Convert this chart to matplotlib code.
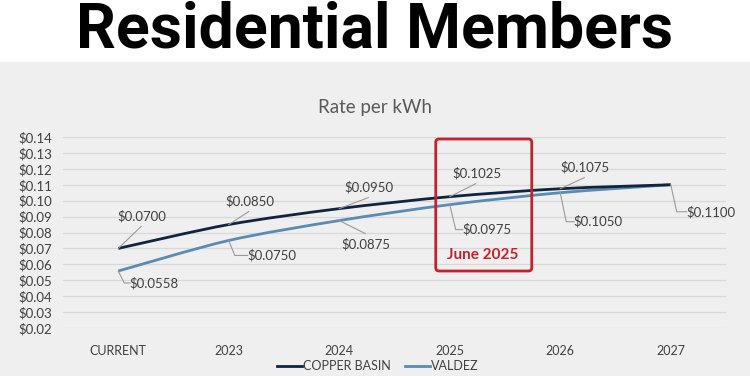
import matplotlib
matplotlib.use("Agg")
import matplotlib.pyplot as plt
from matplotlib.path import Path
from matplotlib.patches import PathPatch, FancyBboxPatch, Rectangle
import numpy as np

categories = ["CURRENT", "2023", "2024", "2025", "2026", "2027"]
copper_basin = [0.0700, 0.0850, 0.0950, 0.1025, 0.1075, 0.1100]
valdez = [0.0558, 0.0750, 0.0875, 0.0975, 0.1050, 0.1100]
copper_labels = ["$0.0700", "$0.0850", "$0.0950", "$0.1025", "$0.1075", None]
valdez_labels = ["$0.0558", "$0.0750", "$0.0875", "$0.0975", "$0.1050", "$0.1100"]
yticks = [0.02, 0.03, 0.04, 0.05, 0.06, 0.07, 0.08, 0.09, 0.10, 0.11, 0.12, 0.13, 0.14]

CB_COLOR = "#10243f"
VA_COLOR = "#5a8bb5"
TXT = "#404040"
LEAD = "#9a9a9a"

W, H = 750, 376
fig = plt.figure(figsize=(7.5, 3.76), dpi=100)
fig.patch.set_facecolor("white")

# gray panel
fig.add_artist(Rectangle((0, 0), 1, 1 - 62 / H, transform=fig.transFigure,
                         facecolor="#efefef", edgecolor="none", zorder=0))

fig.text(0.5, 1 - 31 / H, "Residential Members", ha="center", va="center",
         fontsize=45, fontweight="bold", family="Roboto", color="black")

ax = fig.add_axes([63 / W, 1 - 328 / H, (726 - 63) / W, (328 - 137) / H])
ax.set_facecolor("none")
ax.set_xlim(-0.5, len(categories) - 0.5)
ax.set_ylim(0.02, 0.14)
for s in ax.spines.values():
    s.set_visible(False)
ax.set_yticks(yticks)
ax.set_yticklabels([f"${v:.2f}" for v in yticks], family="Lato", fontsize=9.5, color=TXT)
ax.set_xticks(range(len(categories)))
ax.set_xticklabels(categories, family="Lato", fontsize=9, color=TXT)
ax.tick_params(length=0, pad=8)
ax.tick_params(axis="x", pad=12)
ax.grid(axis="y", color="#d8d8d8", lw=0.9)
ax.set_axisbelow(True)

fig.text(0.5, 1 - 108 / H, "Rate per kWh", ha="center", va="center",
         fontsize=13.5, family="Lato", color="#595959")


def smooth_path(xs, ys):
    xs = np.asarray(xs, float)
    ys = np.asarray(ys, float)
    n = len(xs)
    verts = [(xs[0], ys[0])]
    codes = [Path.MOVETO]
    for i in range(n - 1):
        p0 = (xs[max(i - 1, 0)], ys[max(i - 1, 0)])
        p1 = (xs[i], ys[i])
        p2 = (xs[i + 1], ys[i + 1])
        p3 = (xs[min(i + 2, n - 1)], ys[min(i + 2, n - 1)])
        t = 1 / 7
        c1 = (p1[0] + (p2[0] - p0[0]) * t, p1[1] + (p2[1] - p0[1]) * t)
        c2 = (p2[0] - (p3[0] - p1[0]) * t, p2[1] - (p3[1] - p1[1]) * t)
        verts += [c1, c2, p2]
        codes += [Path.CURVE4] * 3
    return Path(verts, codes)


x = np.arange(len(categories))
LW = 2.0
ax.add_patch(PathPatch(smooth_path(x, valdez), facecolor="none", edgecolor=VA_COLOR,
                       lw=LW, zorder=3, capstyle="butt"))
ax.add_patch(PathPatch(smooth_path(x, copper_basin), facecolor="none", edgecolor=CB_COLOR,
                       lw=LW, zorder=4, capstyle="butt"))
ax.plot([], [], color=CB_COLOR, lw=LW, label="COPPER BASIN")
ax.plot([], [], color=VA_COLOR, lw=LW, label="VALDEZ")

ppu = (726 - 63) / len(categories)
ypu = (328 - 137) / 0.12

# copper: labels up-right with straight leader (pixel offsets of label centre)
c_offsets = [(24, 32), (21, 23), (30, 21), (27, 23), (25, 21)]
for i, (v, lab) in enumerate(zip(copper_basin, copper_labels)):
    if lab is None:
        continue
    ox, oy = c_offsets[i]
    ax.plot([i, i + (ox - 1) / ppu], [v, v + (oy - 10) / ypu], color=LEAD, lw=0.8, zorder=5)
    ax.text(i + ox / ppu, v + oy / ypu, lab, ha="center", va="center",
            family="Lato", fontsize=9.5, color=TXT, zorder=6)

# valdez: labels below-right with elbow leader
v_offsets = [(36, 12), (43, 15), (27, 24), (37, 25), (38, 29), (40, 27)]
for i, (v, lab) in enumerate(zip(valdez, valdez_labels)):
    ox, oy = v_offsets[i]
    if i == 2:
        ax.plot([i, i + 26 / ppu], [v, v - 13 / ypu], color=LEAD, lw=0.8, zorder=5)
        ax.text(i + ox / ppu, v - oy / ypu, lab, ha="center", va="center",
                family="Lato", fontsize=9.5, color=TXT, zorder=6)
        continue
    ex = i + 6 / ppu
    ey = v - oy / ypu
    ax.plot([i, ex, i + (ox - 24) / ppu], [v, ey, ey], color=LEAD, lw=0.8, zorder=5)
    ax.text(i + ox / ppu, ey, lab, ha="center", va="center",
            family="Lato", fontsize=9.5, color=TXT, zorder=6)

# June 2025 box
x0 = 3 + (436 - 450) / ppu
x1 = 3 + (532 - 450) / ppu
y1 = 0.14 - (139 - 137) / ypu
y0 = 0.14 - (271 - 137) / ypu
box = FancyBboxPatch((x0, y0), x1 - x0, y1 - y0, boxstyle="round,pad=0,rounding_size=0.03",
                     mutation_aspect=(ypu / ppu) ** -1,
                     facecolor="none", edgecolor="#c8202a", lw=2, zorder=7, clip_on=False)
ax.add_patch(box)
ax.text(3 + (483 - 450) / ppu, 0.14 - (255 - 137) / ypu, "June 2025", ha="center", va="center",
        family="Lato", fontweight="bold", fontsize=11, color="#c8202a", zorder=8)

leg = fig.legend(loc="center", bbox_to_anchor=(378 / W, 1 - 366 / H), ncol=2, frameon=False,
                 prop={"family": "Lato", "size": 9}, handlelength=2.0, handletextpad=0.1,
                 columnspacing=1.1)
for t in leg.get_texts():
    t.set_color(TXT)

fig.savefig("out.png", dpi=100)
